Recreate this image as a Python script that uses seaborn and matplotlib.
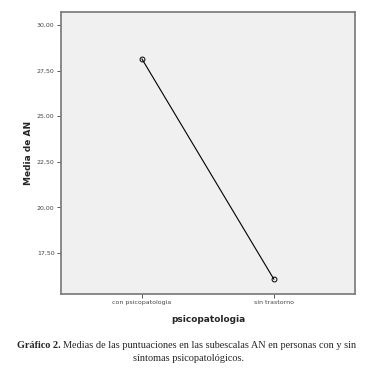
import matplotlib
matplotlib.use("Agg")
import matplotlib.pyplot as plt
import seaborn as sns
import pandas as pd
from matplotlib.ticker import FuncFormatter

categories = ["con psicopatologia", "sin trastorno"]
means = [28.14, 16.06]
yticks = [17.5, 20.0, 22.5, 25.0, 27.5, 30.0]

df = pd.DataFrame({"psicopatologia": categories, "Media de AN": means})

sns.set_style("white")
fig = plt.figure(figsize=(3.78, 3.71), dpi=100)
ax = fig.add_axes([0.161, 0.2075, 0.778, 0.7602])
ax.set_facecolor("#f0f0f0")

sns.pointplot(data=df, x="psicopatologia", y="Media de AN", ax=ax,
              color="black", markers="o", linestyles="-", errorbar=None)
for line in ax.lines:
    line.set_linewidth(0.8)
    line.set_markersize(3.5)
    line.set_markerfacecolor("none")
    line.set_markeredgewidth(0.7)
for coll in ax.collections:
    coll.set_facecolor("none")
    coll.set_sizes([12])
    coll.set_linewidth(0.7)

ax.set_xlim(-0.614, 1.614)
ax.set_ylim(15.25, 30.71)
ax.set_yticks(yticks)
ax.yaxis.set_major_formatter(FuncFormatter(lambda v, p: f"{v:.2f}".replace(".", ",")))

for s in ax.spines.values():
    s.set_color("#808080")
    s.set_linewidth(1.3)
    s.set_visible(True)

ax.tick_params(axis="both", which="both", length=3, width=0.7, color="#555555",
               labelsize=4.5, labelcolor="#444444", pad=1.5, direction="out",
               left=True, bottom=True)
ax.set_ylabel("Media de AN", fontsize=6.5, fontweight="bold", labelpad=3)
ax.set_xlabel("psicopatologia", fontsize=6.5, fontweight="bold", labelpad=7)

cap_fs = 7.4
t1 = fig.text(0.046, 0.069, "Gráfico 2.", fontsize=cap_fs, fontweight="bold",
              family="Liberation Serif", ha="left", va="center")
fig.canvas.draw()
bb = t1.get_window_extent()
x_next = (bb.x1 + 2) / fig.bbox.width
fig.text(x_next, 0.069, "Medias de las puntuaciones en las subescalas AN en personas con y sin",
         fontsize=cap_fs, family="Liberation Serif", ha="left", va="center")
fig.text(0.5, 0.035, "síntomas psicopatológicos.", fontsize=cap_fs,
         family="Liberation Serif", ha="center", va="center")

fig.savefig("out.png", dpi=100)
